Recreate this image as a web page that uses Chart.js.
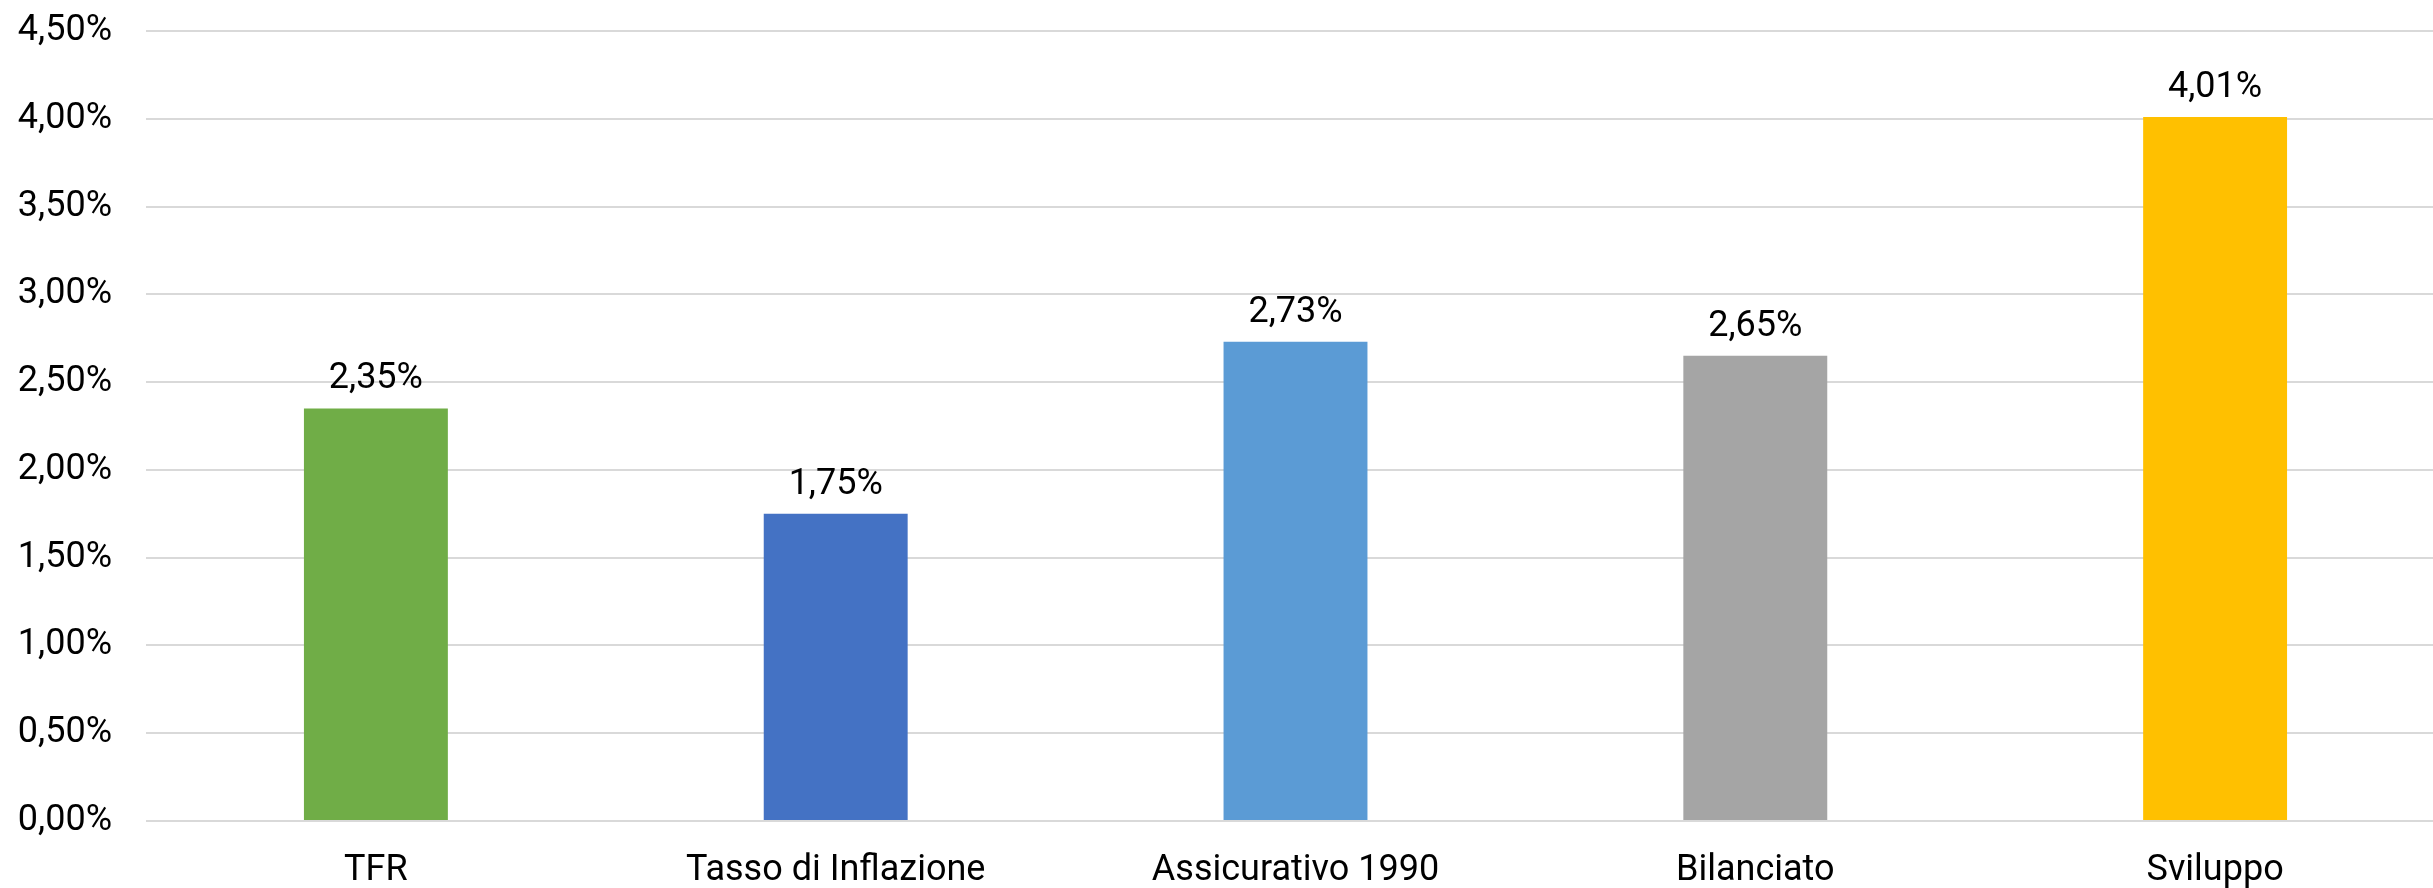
<!DOCTYPE html>
<html>
<head>
<meta charset="utf-8">
<script src="https://cdn.jsdelivr.net/npm/chart.js@4/dist/chart.umd.min.js"></script>
<style>
    html, body { margin: 0; padding: 0; background: #fff; overflow: hidden; }
    #wrap { width: 2433px; height: 888px; overflow: hidden; }
</style>
</head>
<body>
<div id="wrap"><canvas id="rendimenti" width="2445" height="888"></canvas></div>
<script>
const categories = ['TFR', 'Tasso di Inflazione', 'Assicurativo 1990', 'Bilanciato', 'Sviluppo'];
const rendimenti = [2.35, 1.75, 2.73, 2.65, 4.01];
const barColors = ['#70AD47', '#4472C4', '#5B9BD5', '#A5A5A5', '#FFC000'];
const yMin = 0;
const yMax = 4.5;
const yStep = 0.5;

const fmtPct = v => v.toFixed(2).replace('.', ',') + '%';

// etichette sopra le barre
const valueLabels = {
    id: 'valueLabels',
    afterDatasetsDraw(chart) {
        const ctx = chart.ctx;
        const meta = chart.getDatasetMeta(0);
        ctx.save();
        ctx.font = '36px Roboto';
        ctx.fillStyle = '#000';
        ctx.textAlign = 'center';
        ctx.textBaseline = 'alphabetic';
        meta.data.forEach((bar, i) => {
            ctx.fillText(fmtPct(rendimenti[i]), bar.x, bar.y - 20);
        });
        ctx.restore();
    }
};

new Chart(document.getElementById('rendimenti').getContext('2d'), {
    type: 'bar',
    data: {
        labels: categories,
        datasets: [{
            data: rendimenti,
            backgroundColor: barColors,
            borderWidth: 0,
            barPercentage: 0.313,
            categoryPercentage: 1
        }]
    },
    options: {
        responsive: false,
        devicePixelRatio: 1,
        animation: false,
        layout: { padding: { top: 31, left: 0, right: 0, bottom: 0 } },
        plugins: {
            legend: { display: false },
            tooltip: { enabled: false }
        },
        scales: {
            x: {
                grid: { display: false, drawTicks: false },
                border: { display: false },
                ticks: {
                    color: '#000',
                    font: { family: 'Roboto', size: 36 },
                    padding: 28,
                    maxRotation: 0
                },
                afterFit: scale => { scale.height = 67; }
            },
            y: {
                min: yMin,
                max: yMax,
                grid: { color: '#d9d9d9', lineWidth: 2, drawTicks: false },
                border: { display: false },
                ticks: {
                    stepSize: yStep,
                    color: '#000',
                    font: { family: 'Roboto', size: 36 },
                    padding: 34,
                    callback: v => fmtPct(v)
                },
                afterFit: scale => {
                    scale.width = 146;
                    scale.paddingTop = 0;
                    scale.paddingBottom = 0;
                }
            }
        }
    },
    plugins: [valueLabels]
});
</script>
</body>
</html>
